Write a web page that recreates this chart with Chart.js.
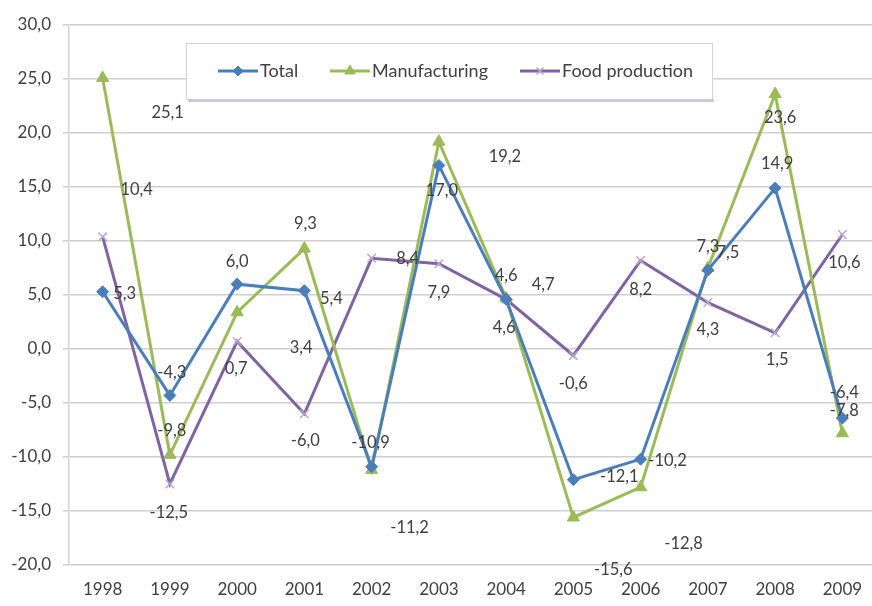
<!DOCTYPE html>
<html>
<head>
<meta charset="utf-8">
<script src="https://cdn.jsdelivr.net/npm/chart.js@4/dist/chart.umd.min.js"></script>
<style>
  html, body { margin: 0; padding: 0; background: #fff; }
  #wrap { width: 872px; height: 606px; overflow: hidden; position: relative; }
  #wrap canvas { position: absolute; left: 0; top: 0; }
</style>
</head>
<body>
<div id="wrap"><canvas id="myChart" width="884" height="606"></canvas></div>
<script>
// 연도 및 계열 값
const years = ['1998', '1999', '2000', '2001', '2002', '2003', '2004', '2005', '2006', '2007', '2008', '2009'];
const total = [5.3, -4.3, 6.0, 5.4, -10.9, 17.0, 4.6, -12.1, -10.2, 7.3, 14.9, -6.4];
const manufacturing = [25.1, -9.8, 3.4, 9.3, -11.2, 19.2, 4.7, -15.6, -12.8, 7.5, 23.6, -7.8];
const foodProduction = [10.4, -12.5, 0.7, -6.0, 8.4, 7.9, 4.6, -0.6, 8.2, 4.3, 1.5, 10.6];
const yTicks = [30, 25, 20, 15, 10, 5, 0, -5, -10, -15, -20];

// 값 라벨 위치 보정 (점 기준 px)
const totalShift = [[22, 2], [2, -23], [0, -23], [27, 8], [-1, -24], [3, 25], [0, -24], [46, -3], [27, 2], [0, -23], [2, -24], [2, -25]];
const manufShift = [[65, 35], [2, -24], [64, 35], [1, -25], [38, 58], [66, 15], [37, -14], [40, 52], [43, 56], [20, -15], [5, 24], [2, -23]];
const foodShift = [[34, -47], [-1, 29], [-1, 27], [1, 27], [36, 0], [0, 29], [-2, 28], [0, 28], [0, 29], [0, 27], [2, 27], [2, 28]];

const FONT = 'Lato, "Open Sans", sans-serif';
const TEXT = '#404040';

const fmt = v => v.toFixed(1).replace('.', ',');

// 각 점 옆에 값 라벨 그리기
const valueLabels = {
  id: 'valueLabels',
  afterDatasetsDraw(chart) {
    const ctx = chart.ctx;
    const shifts = [totalShift, manufShift, foodShift];
    ctx.save();
    ctx.font = '16.5px ' + FONT;
    ctx.fillStyle = TEXT;
    ctx.textAlign = 'center';
    ctx.textBaseline = 'middle';
    chart.data.datasets.forEach((ds, di) => {
      chart.getDatasetMeta(di).data.forEach((pt, i) => {
        const s = shifts[di][i];
        ctx.fillText(fmt(ds.data[i]), pt.x + s[0], pt.y + s[1]);
      });
    });
    ctx.restore();
  }
};

// 플롯 안쪽에 떠 있는 범례 상자
const boxLegend = {
  id: 'boxLegend',
  afterDraw(chart) {
    const ctx = chart.ctx;
    const x = 186, y = 43, w = 526, h = 56;
    ctx.save();
    ctx.fillStyle = '#fff';
    ctx.fillRect(x, y, w, h);
    ctx.strokeStyle = '#d0d4e0';
    ctx.lineWidth = 1;
    ctx.strokeRect(x + 0.5, y + 0.5, w, h);
    ctx.fillStyle = '#c4cbe0';
    ctx.fillRect(x + 2, y + h, w, 3);

    const items = [
      { lx: 218, ds: chart.data.datasets[0] },
      { lx: 330, ds: chart.data.datasets[1] },
      { lx: 520, ds: chart.data.datasets[2] }
    ];
    const cy = 71;
    ctx.font = '18px ' + FONT;
    ctx.textBaseline = 'middle';
    ctx.textAlign = 'left';
    items.forEach(it => {
      ctx.strokeStyle = it.ds.borderColor;
      ctx.lineWidth = 3;
      ctx.beginPath();
      ctx.moveTo(it.lx, cy);
      ctx.lineTo(it.lx + 40, cy);
      ctx.stroke();
      ctx.fillStyle = it.ds.pointBackgroundColor;
      ctx.strokeStyle = it.ds.pointBorderColor;
      ctx.lineWidth = it.ds.pointBorderWidth;
      Chart.helpers.drawPoint(ctx, {
        pointStyle: it.ds.pointStyle,
        radius: it.ds.pointRadius - 1,
        borderWidth: it.ds.pointBorderWidth
      }, it.lx + 20, cy);
      ctx.fillStyle = TEXT;
      ctx.fillText(it.ds.label, it.lx + 42, cy);
    });
    ctx.restore();
  }
};

const ctx = document.getElementById('myChart').getContext('2d');

new Chart(ctx, {
  type: 'line',
  data: {
    labels: years,
    datasets: [
      {
        label: 'Total',
        data: total,
        borderColor: '#4a7ebb',
        borderWidth: 3,
        pointStyle: 'rectRot',
        pointRadius: 6,
        pointBackgroundColor: '#4a7ebb',
        pointBorderColor: '#4a7ebb',
        pointBorderWidth: 1,
        tension: 0
      },
      {
        label: 'Manufacturing',
        data: manufacturing,
        borderColor: '#9bbb59',
        borderWidth: 3,
        pointStyle: 'triangle',
        pointRadius: 7,
        pointBackgroundColor: '#9bbb59',
        pointBorderColor: '#9bbb59',
        pointBorderWidth: 1,
        tension: 0
      },
      {
        label: 'Food production',
        data: foodProduction,
        borderColor: '#8064a2',
        borderWidth: 3,
        pointStyle: 'crossRot',
        pointRadius: 6,
        pointBackgroundColor: '#b6a6cc',
        pointBorderColor: '#b6a6cc',
        pointBorderWidth: 1.5,
        tension: 0
      }
    ]
  },
  options: {
    responsive: false,
    animation: false,
    layout: { padding: { top: 25, right: 2, left: 0, bottom: 0 } },
    plugins: {
      legend: { display: false },
      tooltip: { enabled: false }
    },
    scales: {
      x: {
        offset: true,
        grid: { display: false, drawTicks: false },
        border: { display: false },
        ticks: { color: TEXT, font: { family: FONT, size: 17 }, padding: 14, maxRotation: 0 },
        afterFit(scale) { scale.height = 41; }
      },
      y: {
        min: -20,
        max: 30,
        afterBuildTicks(scale) { scale.ticks = yTicks.map(v => ({ value: v })); },
        grid: { color: '#cfcfcf', lineWidth: 1.5, tickLength: 6 },
        border: { display: true, color: '#d4d4d4', width: 1.5 },
        ticks: {
          color: TEXT,
          font: { family: FONT, size: 17 },
          padding: 12,
          callback: v => fmt(v)
        },
        afterFit(scale) { scale.width = 69; }
      }
    }
  },
  plugins: [valueLabels, boxLegend]
});
</script>
</body>
</html>
